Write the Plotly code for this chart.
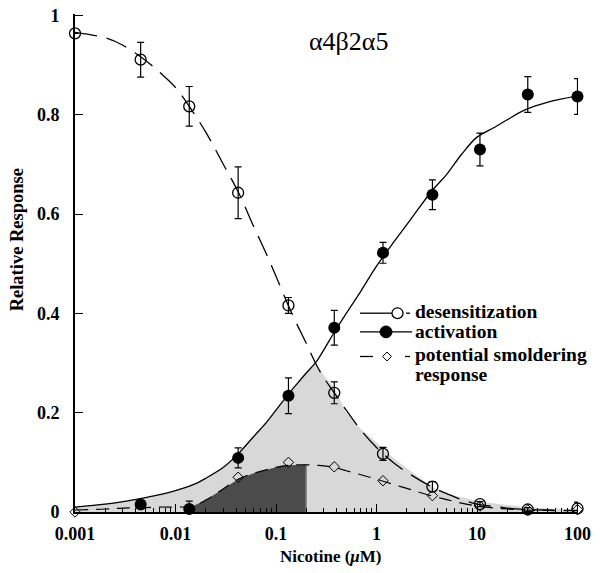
import numpy as np
import plotly.graph_objects as go

FONT = "Liberation Serif"

# ---- data ----
conc = [0.001, 0.0045, 0.0137, 0.042, 0.133, 0.38, 1.16, 3.6, 10.7, 32, 100]
desens_y = [0.964, 0.911, 0.817, 0.643, 0.416, 0.240, 0.117, 0.051, 0.016, 0.005, 0.007]
desens_err = [0.0, 0.035, 0.040, 0.052, 0.016, 0.022, 0.013, 0.010, 0.005, 0.004, 0.013]

act_conc = [0.0045, 0.0137, 0.042, 0.133, 0.38, 1.16, 3.6, 10.7, 32, 100]
act_y = [0.015, 0.006, 0.109, 0.234, 0.371, 0.522, 0.639, 0.730, 0.841, 0.837]
act_err = [0.006, 0.016, 0.020, 0.036, 0.035, 0.021, 0.030, 0.033, 0.036, 0.036]

smol_conc = [0.001, 0.042, 0.133, 0.38, 1.16, 3.6, 10.7, 32, 100]
smol_y = [0.0, 0.070, 0.100, 0.091, 0.063, 0.033, 0.012, 0.004, 0.005]

# fitted curves
curve_x = [0.001, 0.002, 0.003, 0.005, 0.007, 0.01, 0.015, 0.02, 0.03, 0.042, 0.06,
           0.08, 0.1, 0.13, 0.16, 0.2, 0.25, 0.3, 0.38, 0.5, 0.7, 1.0, 1.5, 2.2,
           3.6, 5, 7, 10, 15, 20, 30, 50, 100]
act_curve = [0.010, 0.016, 0.021, 0.029, 0.035, 0.043, 0.055, 0.068, 0.090, 0.117, 0.152,
             0.180, 0.205, 0.235, 0.257, 0.280, 0.302, 0.327, 0.362, 0.400, 0.445, 0.495,
             0.545, 0.590, 0.648, 0.680, 0.720, 0.755, 0.775, 0.790, 0.810, 0.825, 0.838]
desens_curve = [0.966, 0.955, 0.940, 0.910, 0.885, 0.855, 0.805, 0.765, 0.700, 0.645, 0.575,
                0.520, 0.475, 0.420, 0.380, 0.340, 0.298, 0.270, 0.240, 0.205, 0.165, 0.130,
                0.098, 0.075, 0.050, 0.037, 0.025, 0.016, 0.011, 0.008, 0.005, 0.004, 0.003]
smol_curve = [0.004, 0.006, 0.008, 0.009, 0.010, 0.010, 0.012, 0.024, 0.047, 0.066, 0.078,
              0.085, 0.090, 0.094, 0.095, 0.095, 0.094, 0.093, 0.090, 0.083, 0.075, 0.066,
              0.055, 0.045, 0.032, 0.025, 0.018, 0.012, 0.008, 0.006, 0.004, 0.003, 0.003]
overlap_upper = [0.010, 0.016, 0.021, 0.029, 0.035, 0.043, 0.055, 0.068, 0.090, 0.117, 0.152,
                 0.180, 0.205, 0.235, 0.257, 0.280, 0.298, 0.275, 0.250, 0.200, 0.167, 0.140,
                 0.107, 0.082, 0.050, 0.037, 0.030, 0.022, 0.017, 0.014, 0.010, 0.007, 0.005]
dark_lo, dark_hi = 0.015, 0.2

x_ticks = [0.001, 0.01, 0.1, 1, 10, 100]
x_ticktext = ["0.001", "0.01", "0.1", "1", "10", "100"]
y_ticks = [0, 0.2, 0.4, 0.6, 0.8, 1]
y_ticktext = ["0", "0.2", "0.4", "0.6", "0.8", "1"]

legend_labels = ["desensitization", "activation", "potential smoldering", "response"]
title_text = "α4β2α5"
x_title = "Nicotine (<i>μ</i>M)"
y_title = "Relative Response"

# ---- layout geometry (pixels) ----
W, H = 600, 573
ML, MR, MT, MB = 75, 22, 6, 61
PW, PH = W - ML - MR, H - MT - MB


def PX(p):
    return (p - ML) / PW


def PY(p):
    return (H - MB - p) / PH


# ---- figure ----
cx = np.array(curve_x)
sc = np.array(smol_curve)
mask = (cx >= dark_lo) & (cx <= dark_hi)

fig = go.Figure()
fig.add_trace(go.Scatter(x=curve_x, y=overlap_upper, mode="lines", fill="tozeroy",
                         fillcolor="#d8d8d8", line=dict(width=0, color="#d8d8d8"),
                         showlegend=False, hoverinfo="skip"))
fig.add_trace(go.Scatter(x=cx[mask], y=sc[mask], mode="lines", fill="tozeroy",
                         fillcolor="#4b4b4b", line=dict(width=0, color="#4b4b4b"),
                         showlegend=False, hoverinfo="skip"))
fig.add_trace(go.Scatter(x=[dark_hi, dark_hi], y=[0, float(sc[cx == dark_hi][0])], mode="lines",
                         line=dict(width=1.5, color="#8a8a8a"), showlegend=False, hoverinfo="skip"))

# curves
fig.add_trace(go.Scatter(x=curve_x, y=desens_curve, mode="lines", line_shape="spline",
                         line=dict(color="black", width=1.3, dash="22px,10px"), showlegend=False))
fig.add_trace(go.Scatter(x=curve_x, y=act_curve, mode="lines", line_shape="spline",
                         line=dict(color="black", width=1.3), showlegend=False))
fig.add_trace(go.Scatter(x=curve_x, y=smol_curve, mode="lines", line_shape="spline",
                         line=dict(color="black", width=1.2, dash="13px,8px"), showlegend=False))

# points
eb = dict(type="data", color="black", thickness=1.2, width=3.5)
fig.add_trace(go.Scatter(x=conc, y=desens_y, mode="markers", cliponaxis=False,
                         error_y=dict(array=desens_err, **eb),
                         marker=dict(symbol="circle-open", size=11, color="black", line=dict(width=1.3)),
                         showlegend=False))
fig.add_trace(go.Scatter(x=act_conc, y=act_y, mode="markers", cliponaxis=False,
                         error_y=dict(array=act_err, **eb),
                         marker=dict(symbol="circle", size=12, color="black"),
                         showlegend=False))
fig.add_trace(go.Scatter(x=smol_conc, y=smol_y, mode="markers", cliponaxis=False,
                         marker=dict(symbol="diamond-open", size=8, color="black", line=dict(width=1)),
                         showlegend=False))

# ---- hand-drawn legend (glyphs + text) ----
shapes = []
L = dict(color="black", width=1.3)
# desensitization: line, open circle, short dash
y1 = 310
shapes.append(dict(type="line", xref="paper", yref="paper", x0=PX(360), x1=PX(392), y0=PY(y1), y1=PY(y1), line=L))
shapes.append(dict(type="circle", xref="paper", yref="paper", x0=PX(392), x1=PX(403),
                   y0=PY(y1 + 5.5), y1=PY(y1 - 5.5), line=L, fillcolor="rgba(0,0,0,0)"))
shapes.append(dict(type="line", xref="paper", yref="paper", x0=PX(406), x1=PX(410), y0=PY(y1), y1=PY(y1), line=L))
# activation: solid line through filled circle
y2 = 329
shapes.append(dict(type="line", xref="paper", yref="paper", x0=PX(360), x1=PX(412), y0=PY(y2), y1=PY(y2), line=L))
shapes.append(dict(type="circle", xref="paper", yref="paper", x0=PX(380), x1=PX(392),
                   y0=PY(y2 + 6), y1=PY(y2 - 6), line=dict(color="black", width=1), fillcolor="black"))
# smoldering: dash, open diamond, short dash
y3 = 354
shapes.append(dict(type="line", xref="paper", yref="paper", x0=PX(360), x1=PX(373), y0=PY(y3), y1=PY(y3), line=L))
d = 4.5
shapes.append(dict(type="path", xref="paper", yref="paper",
                   path=f"M {PX(387-d)},{PY(y3)} L {PX(387)},{PY(y3-d)} L {PX(387+d)},{PY(y3)} L {PX(387)},{PY(y3+d)} Z",
                   line=dict(color="black", width=1), fillcolor="white"))
shapes.append(dict(type="line", xref="paper", yref="paper", x0=PX(405), x1=PX(410), y0=PY(y3), y1=PY(y3), line=L))

legend_y = [308, 329, 352, 372]
annotations = []
for lab, yy in zip(legend_labels, legend_y):
    annotations.append(dict(text=lab, x=PX(413), y=PY(yy), xref="paper", yref="paper",
                            xanchor="left", yanchor="middle", showarrow=False,
                            font=dict(family=FONT, size=19.5, color="black", weight="bold")))
annotations.append(dict(text=title_text, x=PX(348), y=PY(34), xref="paper", yref="paper",
                        xanchor="center", yanchor="middle", showarrow=False,
                        font=dict(family=FONT, size=26, color="black")))
annotations.append(dict(text=x_title, x=PX(331), y=PY(557), xref="paper", yref="paper",
                        xanchor="center", yanchor="middle", showarrow=False,
                        font=dict(family=FONT, size=17, color="black", weight="bold")))
annotations.append(dict(text=y_title, x=PX(17), y=PY(236), xref="paper", yref="paper",
                        xanchor="center", yanchor="middle", showarrow=False, textangle=-90,
                        font=dict(family=FONT, size=18.5, color="black", weight="bold")))

minor_vals = [m * 10.0 ** e for e in range(-3, 2) for m in range(2, 10)]

fig.update_layout(
    width=W, height=H,
    margin=dict(l=ML, r=MR, t=MT, b=MB),
    plot_bgcolor="white", paper_bgcolor="white",
    font=dict(family=FONT, color="black", size=17),
    showlegend=False,
    shapes=shapes,
    annotations=annotations,
)
fig.update_xaxes(type="log", range=[-3, 2.005], showline=True, linecolor="black", linewidth=2,
                 showgrid=False, zeroline=False, ticks="inside", ticklen=8, tickwidth=1.3,
                 tickcolor="black", tickvals=x_ticks, ticktext=x_ticktext,
                 tickfont=dict(family=FONT, size=18, weight="bold"), ticklabelstandoff=4,
                 minor=dict(ticks="inside", ticklen=4, tickwidth=1.2, tickcolor="black",
                            tickvals=minor_vals, showgrid=False))
fig.update_yaxes(range=[0, 1.003], showline=True, linecolor="black", linewidth=2,
                 showgrid=False, zeroline=False, ticks="inside", ticklen=8, tickwidth=1.3,
                 tickcolor="black", tickvals=y_ticks, ticktext=y_ticktext,
                 tickfont=dict(family=FONT, size=18, weight="bold"), ticklabelstandoff=10,
                 ticklabeloverflow="allow")

fig.write_html("out.html")
